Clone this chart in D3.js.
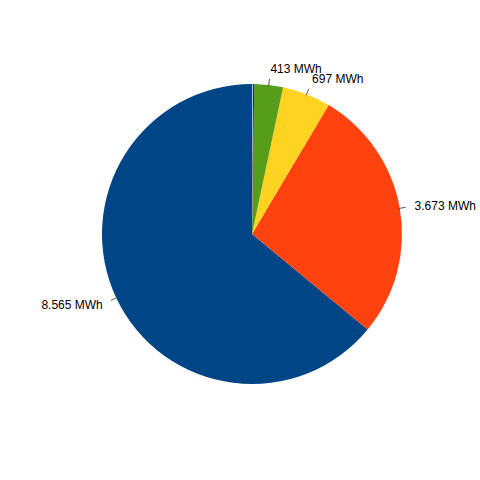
<!DOCTYPE html>
<html>
<head>
<meta charset="utf-8">
<script src="https://cdn.jsdelivr.net/npm/d3@7"></script>
<style>
  html, body { margin: 0; padding: 0; background: #fff; }
  svg { display: block; }
</style>
</head>
<body>
<svg id="chart" width="480" height="480"></svg>
<script>
// Data (order as in the original series; drawn counter-clockwise from 12 o'clock)
const categories = ["A", "B", "C", "D", "E", "F"];
const values = [8565, 3673, 697, 413, 20, 12];
const labels = ["8.565 MWh", "3.673 MWh", "697 MWh", "413 MWh", "", ""];
const colors = ["#004586", "#ff420e", "#ffd320", "#579d1c", "#7e0021", "#83caff"];

const svg = d3.select("#chart");
const cx = 252, cy = 234, r = 150;
const g = svg.append("g").attr("transform", `translate(${cx},${cy})`);

const data = categories.map((c, i) => ({ cat: c, value: values[i], label: labels[i], color: colors[i] }));

const pie = d3.pie().value(d => d.value).sort(null).startAngle(0).endAngle(-2 * Math.PI);
const arcs = pie(data);
const arc = d3.arc().innerRadius(0).outerRadius(r);

g.selectAll("path.slice")
  .data(arcs)
  .join("path")
  .attr("class", "slice")
  .attr("d", arc)
  .attr("fill", d => d.data.color);

const lab = arcs.filter(d => d.data.label);
const pt = (a, rr) => [Math.sin(a) * rr, -Math.cos(a) * rr];

g.selectAll("line.leader")
  .data(lab)
  .join("line")
  .attr("class", "leader")
  .each(function (d) {
    const a = (d.startAngle + d.endAngle) / 2;
    const p1 = pt(a, 149), p2 = pt(a, 156);
    d3.select(this).attr("x1", p1[0]).attr("y1", p1[1]).attr("x2", p2[0]).attr("y2", p2[1]);
  })
  .attr("stroke", "#555")
  .attr("stroke-width", 1);

g.selectAll("text.lbl")
  .data(lab)
  .join("text")
  .attr("class", "lbl")
  .each(function (d) {
    const a = (d.startAngle + d.endAngle) / 2;
    const p = pt(a, 158);
    const x = p[0] + Math.sin(a) * 7;
    const y = p[1] + 4.3 - Math.cos(a) * 8.6;
    d3.select(this)
      .attr("x", x)
      .attr("y", y)
      .attr("text-anchor", Math.sin(a) >= 0 ? "start" : "end");
  })
  .attr("font-family", "'Liberation Sans', Arial, sans-serif")
  .attr("font-size", 12)
  .attr("fill", "#000")
  .text(d => d.data.label);
</script>
</body>
</html>
